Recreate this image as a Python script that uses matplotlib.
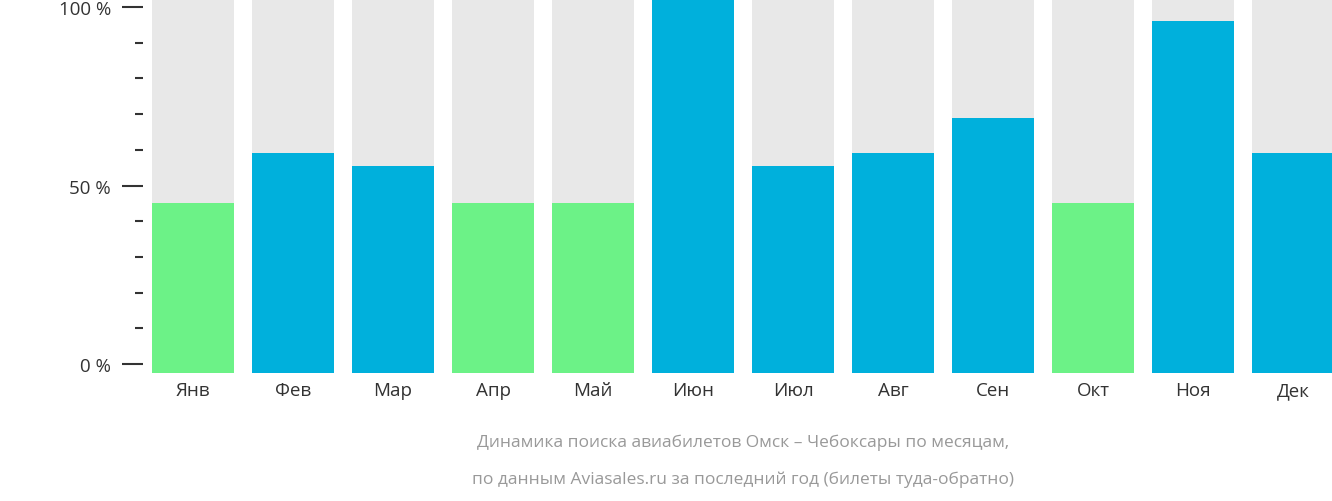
import matplotlib.pyplot as plt
from matplotlib.ticker import MultipleLocator, FuncFormatter

months = ["Янв", "Фев", "Мар", "Апр", "Май", "Июн", "Июл", "Авг", "Сен", "Окт", "Ноя", "Дек"]
values = [45, 59, 55.5, 45, 45, 103, 55.5, 59, 69, 45, 96, 59]
low_months = {"Янв", "Апр", "Май", "Окт"}

plt.rcParams["font.family"] = "Open Sans"

fig = plt.figure(figsize=(13.32, 5.02), dpi=100)
ax = fig.add_axes([143 / 1332, 128 / 502, 1 - 143 / 1332, 374 / 502])
base = -2.52
top = 102.24
xs = range(len(months))
ax.bar(xs, top - base, bottom=base, width=0.82, color="#e8e8e8", zorder=1)
colors = ["#6cf287" if m in low_months else "#00b0dc" for m in months]
ax.bar(xs, [v - base for v in values], bottom=base, width=0.82, color=colors, zorder=2)

ax.set_xlim(-0.5, 11.39)
ax.set_ylim(base, top)
for s in ax.spines.values():
    s.set_visible(False)
ax.set_xticks(list(xs))
ax.set_xticklabels(months, fontsize=13.5, color="#333333")
ax.tick_params(axis="x", length=0, pad=6)
ax.yaxis.set_major_locator(MultipleLocator(50))
ax.yaxis.set_minor_locator(MultipleLocator(10))
ax.yaxis.set_major_formatter(FuncFormatter(lambda v, p: f"{int(v)} %"))
ax.tick_params(axis="y", which="major", length=15, width=1.5, labelsize=13.5,
               pad=8, colors="#333333")
ax.tick_params(axis="y", which="minor", length=6, width=1.5, colors="#333333")

fig.text(0.5 + 0.5 * 143 / 1332 / 1, 443 / 502, "", ha="center")
fig.text(743 / 1332, 1 - 443 / 502, "Динамика поиска авиабилетов Омск – Чебоксары по месяцам,",
         ha="center", va="center", fontsize=12.5, color="#999999")
fig.text(743 / 1332, 1 - 480 / 502, "по данным Aviasales.ru за последний год (билеты туда-обратно)",
         ha="center", va="center", fontsize=12.5, color="#999999")

fig.savefig("out.png", dpi=100)
